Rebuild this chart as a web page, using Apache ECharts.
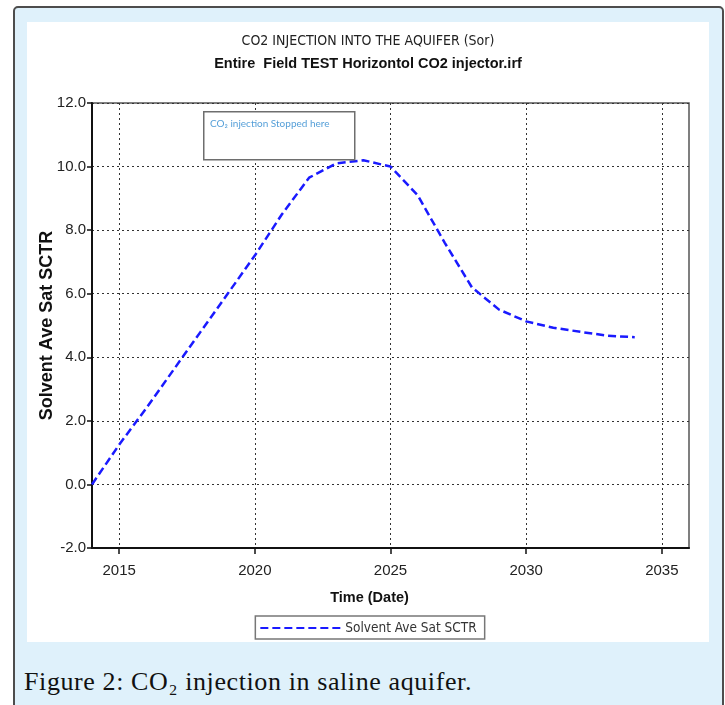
<!DOCTYPE html>
<html>
<head>
<meta charset="utf-8">
<script src="https://cdn.jsdelivr.net/npm/echarts@6/dist/echarts.min.js"></script>
<style>
  body { margin: 0; width: 725px; height: 705px; overflow: hidden; background: #ffffff; position: relative; }
  .frame {
    position: absolute; left: 13px; top: 6px; width: 707px; height: 720px;
    border: 2px solid #4d4d4d; border-radius: 5px; background: #dff1fb;
  }
  .panel { position: absolute; left: 27px; top: 22px; width: 682px; height: 620px; background: #ffffff; }
  #chart { position: absolute; left: 27px; top: 22px; width: 682px; height: 620px; }
  .caption {
    position: absolute; left: 24px; top: 667px; line-height: 30px;
    font-family: 'Liberation Serif', 'DejaVu Serif', serif; font-size: 26px; letter-spacing: 0.6px; color: #111;
  }
</style>
</head>
<body>
<div class="frame"></div>
<div class="panel"></div>
<div id="chart"></div>
<div class="caption">Figure 2: CO₂ injection in saline aquifer.</div>
<script>
// values
const years = [2014, 2015, 2016, 2017, 2018, 2019, 2020, 2021, 2022, 2023, 2024, 2025, 2026, 2027, 2028, 2029, 2030, 2031, 2032, 2033, 2034]
const solventSat = [0, 1.25, 2.4, 3.6, 4.8, 6.0, 7.2, 8.5, 9.65, 10.1, 10.2, 10.0, 9.1, 7.6, 6.2, 5.5, 5.13, 4.93, 4.8, 4.68, 4.63]
const xTicks = [2015, 2020, 2025, 2030, 2035]

const narrow = "'DejaVu Sans Condensed', 'Liberation Sans Narrow', 'Liberation Sans', Arial, sans-serif"
const sans = "'Liberation Sans', Arial, sans-serif"

const myChart = echarts.init(document.getElementById('chart'))

const options = {
  animation: false,
  title: [
    {
      text: 'CO2 INJECTION INTO THE AQUIFER (Sor)',
      left: 'center',
      top: 7,
      textStyle: { fontFamily: narrow, fontSize: 14, fontWeight: 'normal', color: '#222' }
    },
    {
      text: 'Entire  Field TEST Horizontol CO2 injector.irf',
      left: 'center',
      top: 29,
      textStyle: { fontFamily: sans, fontSize: 14.5, fontWeight: 'bold', color: '#111' }
    }
  ],
  legend: {
    left: 'center',
    top: 594,
    padding: [5, 8, 4, 4],
    borderColor: '#777',
    borderWidth: 1.5,
    borderRadius: 0,
    itemWidth: 80,
    itemHeight: 14,
    itemGap: 4,
    itemStyle: { opacity: 0 },
    textStyle: { fontFamily: narrow, fontSize: 13.5, color: '#333' }
  },
  grid: {
    left: 65,
    top: 81,
    right: 20,
    bottom: 94,
    show: true,
    borderColor: '#555',
    borderWidth: 1.5,
    containLabel: false,
    outerBoundsMode: 'none'
  },
  xAxis: {
    type: 'value',
    min: 2014,
    max: 2036,
    name: 'Time (Date)',
    nameLocation: 'middle',
    nameGap: 42,
    nameMoveOverlap: false,
    nameTextStyle: { fontFamily: sans, fontSize: 14.5, fontWeight: 'bold', color: '#111', padding: [0, 42, 0, 0] },
    axisLine: { show: true, onZero: false, lineStyle: { color: '#111', width: 2 } },
    axisTick: { show: true, length: 6, customValues: xTicks, lineStyle: { color: '#111', width: 1.5 } },
    axisLabel: {
      customValues: xTicks,
      margin: 15,
      fontFamily: sans,
      fontSize: 15,
      color: '#222',
      formatter: v => String(v)
    },
    splitLine: { show: true, lineStyle: { color: '#333', width: 1, type: [2, 3] } }
  },
  yAxis: {
    type: 'value',
    min: -2,
    max: 12,
    interval: 2,
    name: 'Solvent Ave Sat SCTR',
    nameLocation: 'middle',
    nameGap: 36,
    nameMoveOverlap: false,
    nameTextStyle: { fontFamily: sans, fontSize: 18, fontWeight: 'bold', color: '#111' },
    axisLine: { show: true, onZero: false, lineStyle: { color: '#111', width: 2 } },
    axisTick: { show: true, length: 5, lineStyle: { color: '#111', width: 1.5 } },
    axisLabel: {
      margin: 6,
      fontFamily: sans,
      fontSize: 15,
      color: '#222',
      formatter: v => v.toFixed(1)
    },
    splitLine: { show: true, lineStyle: { color: '#333', width: 1, type: [2, 3] } }
  },
  graphic: [
    {
      type: 'rect',
      left: 176,
      top: 89,
      shape: { width: 151, height: 48 },
      style: { fill: '#ffffff', stroke: '#6e6e6e', lineWidth: 1.5 },
      z: 10
    },
    {
      type: 'text',
      left: 183,
      top: 97,
      style: {
        text: 'CO₂ injection Stopped here',
        fontFamily: "Lato, 'Open Sans', sans-serif",
        fontSize: 10,
        fill: '#559fd8'
      },
      z: 11
    }
  ],
  series: [
    {
      name: 'Solvent Ave Sat SCTR',
      type: 'line',
      data: years.map((y, i) => [y, solventSat[i]]),
      symbol: 'none',
      smooth: false,
      color: '#1a1aff',
      lineStyle: { color: '#1a1aff', width: 2.5, type: [8, 4] },
      z: 5
    }
  ]
}
myChart.setOption(options)
</script>
</body>
</html>
